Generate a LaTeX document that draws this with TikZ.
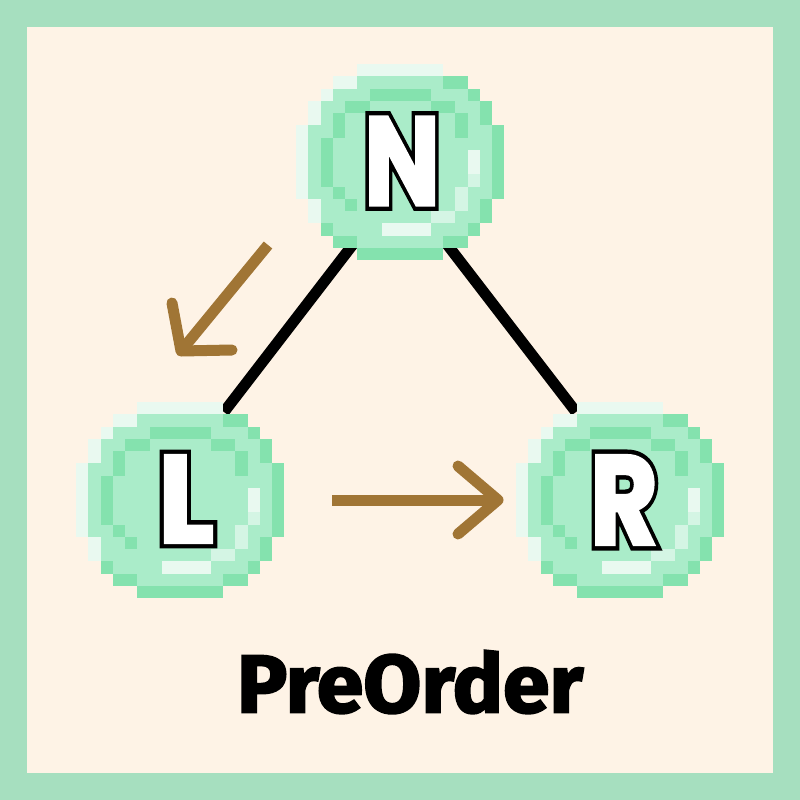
\documentclass[tikz,border=0pt]{standalone}
\usepackage{fontspec}
\usepackage{graphicx}
\setmainfont{Poppins}
\newfontfamily\letterwhite[BoldFeatures={FakeBold=2.5}]{Poppins}
\newfontfamily\letterblack[BoldFeatures={FakeBold=9.5}]{Poppins}
\newfontfamily\titlefont[BoldFeatures={FakeBold=2.5}]{Fira Sans}
\definecolor{frame}{HTML}{A6DFBF}
\definecolor{cream}{HTML}{FEF3E6}
\definecolor{cdark}{HTML}{84E2AE}
\definecolor{cmid}{HTML}{AAECC9}
\definecolor{cvl}{HTML}{E9F9F0}
\definecolor{clt}{HTML}{D4F5E4}
\definecolor{arrowbrown}{HTML}{A07535}
\newcommand\cellfill[2]{%
  \foreach \ra/\rb/\ca/\cb in {#2}
    \fill[#1] ({\ca*12.25},{\ra*12.25}) rectangle ({(\cb+1)*12.25},{(\rb+1)*12.25});}
\newcommand\coinpix[2]{%
  \begin{scope}[shift={(#1,#2)}]
    \cellfill{cmid}{0/0/5/11,1/1/3/13,2/2/2/14,3/4/1/15,5/10/0/16,11/12/1/15,13/13/2/14,14/14/3/13,15/15/5/11}
    \cellfill{cdark}{1/1/12/13,2/2/6/10,2/2/14/14,3/3/4/5,3/3/11/12,3/4/15/15,4/5/3/3,4/5/13/13,5/10/16/16,6/9/2/2,10/10/3/3,11/11/4/4,11/12/15/15,13/13/2/2,13/13/14/14,14/14/3/4,14/14/12/13,15/15/5/11}
    \cellfill{cvl}{0/0/5/11,1/1/3/4,2/2/2/2,3/4/1/1,5/10/0/0,11/12/1/1,7/8/14/14,13/13/7/10}
    \cellfill{clt}{9/9/14/14,10/11/13/13,12/12/11/12}
  \end{scope}}
% outlined letter: a heavier black glyph under the white one, in one box
\newcommand\olet[1]{{\fontsize{100}{100}\selectfont
  \rlap{\color{black}\letterblack\bfseries #1}%
  \color{white}\letterwhite\bfseries #1}}
\tikzset{
  edge/.style={line width=11pt,black,line cap=butt},
  shaft/.style={line width=11pt,arrowbrown,line cap=butt},
  head/.style={line width=11pt,arrowbrown,line cap=round,line join=round},
  letter/.style={inner sep=0pt}
}
\begin{document}
\begin{tikzpicture}[x=1pt,y=-1pt]
\useasboundingbox (0,0) rectangle (800,800);
\fill[frame] (0,0) rectangle (800,800);
\fill[cream] (27,27) rectangle (773,773);
% tree edges
\coordinate (nL) at (354,243);
\coordinate (lT) at (224,412);
\coordinate (nR) at (446,243);
\coordinate (rT) at (576,412);
\draw[edge] (nL) -- (lT);
\draw[edge] (nR) -- (rT);
% coins
\coinpix{296}{64}
\coinpix{76}{402}
\coinpix{516}{402}
\node[letter] (N) at (402,161) {\resizebox{76pt}{88pt}{\olet{N}}};
\node[letter] (L) at (186,499) {\resizebox{56pt}{87pt}{\olet{L}}};
\node[letter] (R) at (624,500) {\resizebox{68pt}{89pt}{\olet{R}}};
% arrows
\coordinate (a1s) at (268,245);
\coordinate (a1t) at (181,351);
\coordinate (a1u) at (172,303);
\coordinate (a1v) at (232,350);
\draw[shaft] (a1s) -- (a1t);
\draw[head] (a1u) -- (a1t) -- (a1v);
\coordinate (a2s) at (332,500);
\coordinate (a2t) at (498,500);
\coordinate (a2u) at (458,466);
\coordinate (a2v) at (458,534);
\draw[shaft] (a2s) -- (a2t);
\draw[head] (a2u) -- (a2t) -- (a2v);
% title
\node[inner sep=0pt] (title) at (410,682) {\resizebox{346pt}{62pt}{\titlefont\bfseries PreOrder}};
\end{tikzpicture}
\end{document}
